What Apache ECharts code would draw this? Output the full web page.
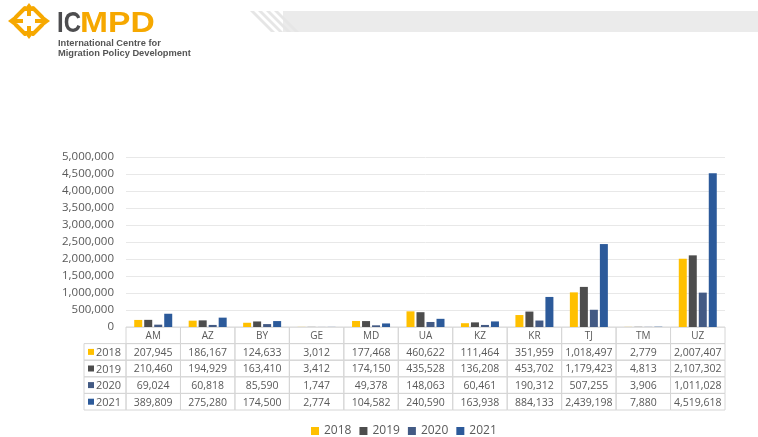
<!DOCTYPE html>
<html>
<head>
<meta charset="utf-8">
<script src="https://cdn.jsdelivr.net/npm/echarts@6/dist/echarts.min.js"></script>
<style>
  html, body { margin: 0; padding: 0; background: #fff; }
  #chart { width: 758px; height: 437px; }
</style>
</head>
<body>
<div id="chart"></div>
<script>
// 数据
const categories = ['AM', 'AZ', 'BY', 'GE', 'MD', 'UA', 'KZ', 'KR', 'TJ', 'TM', 'UZ']
const years = ['2018', '2019', '2020', '2021']
const values2018 = [207945, 186167, 124633, 3012, 177468, 460622, 111464, 351959, 1018497, 2779, 2007407]
const values2019 = [210460, 194929, 163410, 3412, 174150, 435528, 136208, 453702, 1179423, 4813, 2107302]
const values2020 = [69024, 60818, 85590, 1747, 49378, 148063, 60461, 190312, 507255, 3906, 1011028]
const values2021 = [389809, 275280, 174500, 2774, 104582, 240590, 163938, 884133, 2439198, 7880, 4519618]
const yearValues = [values2018, values2019, values2020, values2021]

// 颜色
const colorList = ['#ffc000', '#4d4d4d', '#435a84', '#2c5a9a']
const textColor = '#595959'
const lineColor = '#d6d6d6'
const font = '"Open Sans", "Liberation Sans", sans-serif'

const fmt = v => v.toLocaleString('en-US')

const chart = echarts.init(document.getElementById('chart'))

const option = {
  animation: false,
  color: colorList,
  grid: { left: 126, right: 33, top: 157, bottom: 110 },
  legend: {
    data: years,
    top: 420,
    left: 306,
    icon: 'rect',
    itemWidth: 8,
    itemHeight: 8,
    itemGap: 8,
    textStyle: { color: textColor, fontSize: 12, fontFamily: font }
  },
  xAxis: {
    type: 'category',
    data: categories,
    axisLine: { show: false },
    axisTick: { show: false },
    axisLabel: { show: false }
  },
  yAxis: {
    type: 'value',
    min: 0,
    max: 5000000,
    interval: 500000,
    axisLabel: {
      color: textColor,
      fontSize: 11.5,
      fontFamily: font,
      margin: 12,
      formatter: v => fmt(v)
    },
    splitLine: { lineStyle: { color: '#e8e8e8' } }
  },
  series: years.map((y, i) => ({
    name: y,
    type: 'bar',
    barWidth: 8,
    barGap: '25%',
    data: yearValues[i]
  }))
}

chart.setOption(option)

// 表格和页眉
const buildGraphics = () => {
  const x0 = chart.convertToPixel({ xAxisIndex: 0 }, 0)
  const x1 = chart.convertToPixel({ xAxisIndex: 0 }, 1)
  const band = x1 - x0
  const left = x0 - band / 2
  const top = chart.convertToPixel({ yAxisIndex: 0 }, 0)
  const rowH = 16.6
  const labelW = 42
  const els = []

  // 表头
  categories.forEach((c, i) => {
    const cx = left + band * i
    els.push({
      type: 'rect',
      shape: { x: cx, y: top, width: band, height: rowH },
      style: { fill: 'none', stroke: lineColor, lineWidth: 1 }
    })
    els.push({
      type: 'text',
      style: {
        text: c, x: cx + band / 2, y: top + rowH / 2 + 1,
        align: 'center', verticalAlign: 'middle',
        textAlign: 'center', textVerticalAlign: 'middle',
        fill: textColor, font: '10px ' + font
      }
    })
  })

  // 数据行
  years.forEach((y, r) => {
    const ry = top + rowH * (r + 1)
    els.push({
      type: 'rect',
      shape: { x: left - labelW, y: ry, width: labelW, height: rowH },
      style: { fill: 'none', stroke: lineColor, lineWidth: 1 }
    })
    els.push({
      type: 'rect',
      shape: { x: left - labelW + 4, y: ry + rowH / 2 - 3, width: 6, height: 6 },
      style: { fill: colorList[r] }
    })
    els.push({
      type: 'text',
      style: {
        text: y, x: left - labelW + 12, y: ry + rowH / 2 + 1,
        align: 'left', verticalAlign: 'middle',
        textAlign: 'left', textVerticalAlign: 'middle',
        fill: textColor, font: '11px ' + font
      }
    })
    yearValues[r].forEach((v, i) => {
      const cx = left + band * i
      els.push({
        type: 'rect',
        shape: { x: cx, y: ry, width: band, height: rowH },
        style: { fill: 'none', stroke: lineColor, lineWidth: 1 }
      })
      els.push({
        type: 'text',
        style: {
          text: fmt(v), x: cx + band / 2, y: ry + rowH / 2 + 1,
          align: 'center', verticalAlign: 'middle',
          textAlign: 'center', textVerticalAlign: 'middle',
          fill: textColor, font: '10.5px ' + font
        }
      })
    })
  })

  // 顶部灰条
  els.push({
    type: 'rect',
    shape: { x: 283, y: 11, width: 475, height: 21 },
    style: { fill: '#ebebeb' }
  })
  for (let k = 0; k < 4; k++) {
    const sx = 250 + k * 8
    els.push({
      type: 'polygon',
      shape: { points: [[sx, 11], [sx + 4, 11], [sx + 25, 32], [sx + 21, 32]] },
      style: { fill: '#e6e6e6' }
    })
  }

  // logo 图标
  const orange = '#f6a800'
  const cx = 29, cy = 21
  // 菱形四角的斜线
  const corners = [[-1, -1], [1, -1], [1, 1], [-1, 1]]
  corners.forEach(([sx, sy]) => {
    els.push({
      type: 'line',
      shape: { x1: cx + sx * 13, y1: cy + sy * 4, x2: cx + sx * 4, y2: cy + sy * 13 },
      style: { stroke: orange, lineWidth: 4, lineCap: 'round' }
    })
  })
  const arrows = [[0, -1], [0, 1], [-1, 0], [1, 0]]
  arrows.forEach(([dx, dy]) => {
    const tip = [cx + dx * 21, cy + dy * 18]
    const base = [cx + dx * 13, cy + dy * 10]
    const px = -dy, py = dx
    els.push({
      type: 'polygon',
      shape: { points: [tip, [base[0] + px * 6, base[1] + py * 6], [base[0] - px * 6, base[1] - py * 6]] },
      style: { fill: orange }
    })
    els.push({
      type: 'line',
      shape: { x1: cx + dx * 6, y1: cy + dy * 5, x2: base[0], y2: base[1] },
      style: { stroke: orange, lineWidth: 4 }
    })
  })
  els.push({
    type: 'text', scaleX: 0.8, x: 57, y: 9,
    style: { text: 'IC', x: 0, y: 0, fill: '#4d4d4f', font: 'bold 30px "Liberation Sans", sans-serif', verticalAlign: 'top', textVerticalAlign: 'top' }
  })
  els.push({
    type: 'text', scaleX: 1.12, x: 80, y: 9,
    style: { text: 'MPD', x: 0, y: 0, fill: orange, font: 'bold 30px "Liberation Sans", sans-serif', verticalAlign: 'top', textVerticalAlign: 'top' }
  })
  els.push({
    type: 'text',
    style: { text: 'International Centre for', x: 58, y: 39, fill: '#555', font: 'bold 9.3px "Liberation Sans", sans-serif', verticalAlign: 'top', textVerticalAlign: 'top' }
  })
  els.push({
    type: 'text',
    style: { text: 'Migration Policy Development', x: 58, y: 48.5, fill: '#555', font: 'bold 9.3px "Liberation Sans", sans-serif', verticalAlign: 'top', textVerticalAlign: 'top' }
  })

  chart.setOption({ graphic: { elements: els } })
}

buildGraphics()
</script>
</body>
</html>
